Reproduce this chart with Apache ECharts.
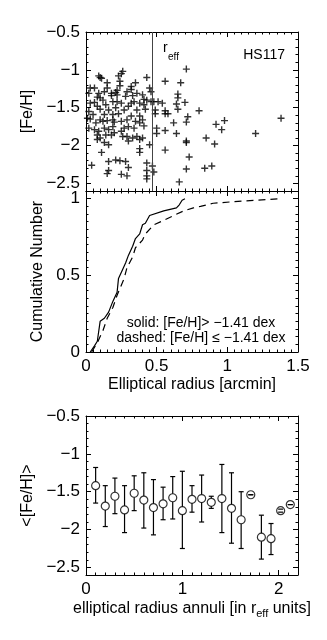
<!DOCTYPE html>
<html>
<head>
<meta charset="utf-8">
<script src="https://cdn.jsdelivr.net/npm/echarts@6/dist/echarts.min.js"></script>
<style>
html, body {margin: 0; padding: 0; background: #fff;}
#hs117 {width: 327px; height: 640px;}
</style>
</head>
<body>
<div id="hs117"></div>
<script>

//
// Data
//

// Individual stars: elliptical radius [arcmin] and [Fe/H]
var star_radius = [
    0.26,0.25,0.23,0.09,0.10,0.11,0.43,0.15,0.03,0.02,
    0.06,0.35,0.32,0.24,0.45,0.36,0.22,0.21,0.22,0.13,
    0.09,0.29,0.18,0.08,0.10,0.28,0.33,0.40,0.41,0.43,
    0.46,0.03,0.06,0.12,0.14,0.19,0.22,0.25,0.32,0.34,
    0.38,0.41,0.08,0.10,0.16,0.21,0.27,0.30,0.36,0.42,
    0.02,0.05,0.13,0.19,0.23,0.32,0.38,0.03,0.01,0.10,
    0.12,0.19,0.25,0.29,0.35,0.40,0.07,0.15,0.41,0.38,
    0.02,0.06,0.09,0.13,0.16,0.19,0.14,0.18,0.20,0.08,
    0.10,0.25,0.27,0.30,0.34,0.26,0.29,0.33,0.36,0.40,
    0.30,0.38,0.08,0.13,0.16,0.38,0.38,0.45,0.11,0.04,
    0.16,0.21,0.24,0.28,0.30,0.16,0.15,0.25,0.29,0.43,
    0.43,0.43,0.43,
    0.24,0.15,0.18,0.32,0.46,0.20,
    0.71,0.56,0.67,0.65,0.65,0.48,0.51,0.54,0.64,0.70,
    0.65,0.80,0.49,0.49,0.56,0.56,0.58,0.72,0.62,0.71,
    0.98,0.92,1.38,0.50,0.50,0.56,0.64,0.96,1.20,0.85,
    0.71,0.71,0.91,0.56,0.73,0.47,0.48,0.71,0.84,0.89,
    0.66
];
var star_feh = [
    -1.02,-1.05,-1.08,-1.08,-1.10,-1.11,-1.10,-1.17,-1.24,-1.31,
    -1.24,-1.17,-1.22,-1.21,-1.24,-1.31,-1.27,-1.30,-1.33,-1.29,
    -1.31,-1.29,-1.34,-1.36,-1.37,-1.35,-1.34,-1.33,-1.39,-1.40,
    -1.42,-1.44,-1.43,-1.40,-1.46,-1.42,-1.42,-1.44,-1.44,-1.42,
    -1.44,-1.46,-1.48,-1.52,-1.53,-1.50,-1.53,-1.48,-1.53,-1.52,
    -1.55,-1.59,-1.59,-1.59,-1.58,-1.61,-1.61,-1.65,-1.64,-1.66,
    -1.68,-1.66,-1.68,-1.66,-1.68,-1.66,-1.70,-1.67,-1.74,-1.70,
    -1.77,-1.79,-1.81,-1.77,-1.79,-1.75,-1.86,-1.86,-1.83,-1.86,
    -1.90,-1.81,-1.77,-1.75,-1.77,-1.88,-1.88,-1.90,-1.88,-1.90,
    -1.94,-1.92,-1.92,-1.96,-1.99,-2.04,-2.09,-1.99,-2.09,-2.26,
    -2.21,-2.19,-2.20,-2.21,-2.29,-2.33,-2.37,-2.38,-2.40,-2.23,
    -2.33,-2.40,-2.44,
    -1.15,-1.24,-1.31,-1.26,-1.29,-1.69,
    -0.99,-1.15,-1.17,-1.32,-1.37,-1.42,-1.42,-1.44,-1.45,-1.43,
    -1.52,-1.54,-1.53,-1.58,-1.54,-1.58,-1.58,-1.62,-1.70,-1.69,
    -1.67,-1.72,-1.64,-1.77,-1.84,-1.80,-1.84,-1.79,-1.84,-1.90,
    -1.94,-1.96,-1.98,-2.06,-2.15,-2.27,-2.35,-2.31,-2.30,-2.27,
    -2.48
];
var reff_radius = 0.475;

// Cumulative distributions
var cum_solid_radius = [0.03,0.06,0.08,0.10,0.13,0.16,0.19,0.22,0.23,0.26,0.28,0.30,0.33,0.35,0.38,0.40,0.42,0.45,0.55,0.64,0.66,0.68,0.70];
var cum_solid_frac   = [0.00,0.04,0.07,0.20,0.22,0.26,0.33,0.39,0.48,0.54,0.58,0.63,0.69,0.74,0.77,0.83,0.84,0.89,0.92,0.94,0.96,0.99,1.00];
var cum_dashed_radius = [0.04,0.08,0.12,0.15,0.19,0.22,0.27,0.29,0.33,0.35,0.40,0.42,0.48,0.53,0.62,0.69,0.76,0.81,0.90,1.04,1.21,1.38];
var cum_dashed_frac   = [0.00,0.06,0.14,0.22,0.29,0.37,0.48,0.55,0.62,0.68,0.73,0.77,0.83,0.85,0.89,0.92,0.94,0.95,0.97,0.98,0.99,1.00];

// Mean [Fe/H] in annuli (r_eff units)
var annuli_radius = [0.10,0.20,0.30,0.40,0.50,0.60,0.70,0.80,0.90,1.00,1.10,1.20,1.30,1.41,1.51,1.61,1.71,1.82,1.92,2.02,2.12];
var annuli_feh    = [-1.42,-1.69,-1.56,-1.74,-1.52,-1.61,-1.71,-1.66,-1.58,-1.75,-1.60,-1.59,-1.64,-1.59,-1.72,-1.87,-1.54,-2.10,-2.12,-1.75,-1.67];
var annuli_high   = [-1.18,-1.42,-1.32,-1.42,-1.29,-1.25,-1.34,-1.44,-1.30,-1.23,-1.42,-1.28,-1.56,-1.14,-1.25,-1.50,-1.54,-1.81,-1.92,-1.73,-1.67];
var annuli_low    = [-1.65,-1.96,-1.79,-2.04,-1.75,-1.98,-2.07,-1.87,-1.86,-2.25,-1.77,-1.90,-1.72,-2.04,-2.18,-2.25,-1.54,-2.39,-2.33,-1.77,-1.67];

// Tick labels
var feh_ticks = [-2.5, -2, -1.5, -1, -0.5];
var radius_ticks = [0, 0.5, 1, 1.5];
var cum_ticks = [0, 0.5, 1];
var annuli_ticks = [0, 1, 2];


//
// Helpers
//

var FONT = '"Liberation Sans", Arial, Helvetica, sans-serif';

var minusFormatter = function(v) {
    return String(v).replace('-', '\u2212');
};

// Four axes per dimension and grid: main side (minor + major ticks), mirrored side (minor + major)
var makeAxes = function(dim, grid, min, max, step, majors, showLabels, name, nameGap, rich) {
    var sides = dim == 'x' ? ['bottom', 'top'] : ['left', 'right'];
    var axes = [];
    sides.forEach(function(side, s) {
        axes.push({
            type: 'value',
            gridIndex: grid,
            position: side,
            min: min,
            max: max,
            interval: step,
            axisLine: {show: true, onZero: false, lineStyle: {color: '#000', width: 1}},
            axisTick: {show: true, inside: true, length: 2.5, lineStyle: {color: '#000', width: 1}},
            axisLabel: {
                show: showLabels && s == 0,
                customValues: majors,
                formatter: minusFormatter,
                color: '#000',
                fontSize: 17,
                fontFamily: FONT,
                margin: 6
            },
            splitLine: {show: false},
            name: s == 0 ? name : '',
            nameLocation: 'middle',
            nameGap: nameGap,
            nameTextStyle: {color: '#000', fontSize: 16, fontFamily: FONT, rich: rich}
        });
        axes.push({
            type: 'value',
            gridIndex: grid,
            position: side,
            min: min,
            max: max,
            axisLine: {show: false, onZero: false},
            axisTick: {show: true, inside: true, length: 5, customValues: majors, lineStyle: {color: '#000', width: 1}},
            axisLabel: {show: false},
            splitLine: {show: false}
        });
    });
    return axes;
};

var subRich = {
    sub: {fontSize: 11, fontFamily: FONT, color: '#000', padding: [10, 0, 0, 0]}
};

var renderErrorBar = function(params, api) {
    var x = api.value(0);
    var pLow = api.coord([x, api.value(1)]);
    var pHigh = api.coord([x, api.value(2)]);
    var pMid = api.coord([x, api.value(3)]);
    var r = 4, cap = 2.5;
    var style = {stroke: '#000', lineWidth: 1.2};
    var children = [
        {type: 'line', shape: {x1: pLow[0] - cap, y1: pLow[1], x2: pLow[0] + cap, y2: pLow[1]}, style: style},
        {type: 'line', shape: {x1: pHigh[0] - cap, y1: pHigh[1], x2: pHigh[0] + cap, y2: pHigh[1]}, style: style}
    ];
    if (pHigh[1] < pMid[1] - r) {
        children.push({type: 'line', shape: {x1: pHigh[0], y1: pHigh[1], x2: pMid[0], y2: pMid[1] - r}, style: style});
    }
    if (pLow[1] > pMid[1] + r) {
        children.push({type: 'line', shape: {x1: pMid[0], y1: pMid[1] + r, x2: pLow[0], y2: pLow[1]}, style: style});
    }
    return {type: 'group', children: children};
};


//
// Chart
//

var chart_element = document.getElementById('hs117');
var chart = echarts.init(chart_element, null, {renderer: 'canvas'});

var xAxes = []
    .concat(makeAxes('x', 0, 0, 1.5, 0.05, radius_ticks, false, '', 0))
    .concat(makeAxes('x', 1, 0, 1.5, 0.05, radius_ticks, true, 'Elliptical radius [arcmin]', 25))
    .concat(makeAxes('x', 2, 0, 2.2, 0.1, annuli_ticks, true, 'elliptical radius annuli [in r{sub|eff} units]', 23, subRich));

var yAxes = []
    .concat(makeAxes('y', 0, -2.6, -0.5, 0.1, feh_ticks, true, '[Fe/H]', 47))
    .concat(makeAxes('y', 1, 0, 1.05, 0.05, cum_ticks, true, 'Cumulative Number', 40))
    .concat(makeAxes('y', 2, -2.6, -0.5, 0.1, feh_ticks, true, '<[Fe/H]>', 47));

chart.setOption({
    animation: false,
    textStyle: {fontFamily: FONT},

    grid: [
        {left: 86, width: 212, top: 32, height: 159},
        {left: 86, width: 212, top: 191, height: 161},
        {left: 86, width: 212, top: 416, height: 159}
    ],

    xAxis: xAxes,
    yAxis: yAxes,

    graphic: [
        {type: 'text', x: 285, y: 55, style: {text: 'HS117', fill: '#000', font: '14px ' + FONT, align: 'right', verticalAlign: 'middle'}},
        {type: 'text', x: 163, y: 48, style: {text: 'r', fill: '#000', font: '14px ' + FONT, align: 'left', verticalAlign: 'middle'}},
        {type: 'text', x: 168, y: 57, style: {text: 'eff', fill: '#000', font: '10px ' + FONT, align: 'left', verticalAlign: 'middle'}},
        {type: 'text', x: 201, y: 323, style: {text: 'solid: [Fe/H]> \u22121.41 dex', fill: '#000', font: '14px ' + FONT, align: 'center', verticalAlign: 'middle'}},
        {type: 'text', x: 201, y: 338, style: {text: 'dashed: [Fe/H] \u2264 \u22121.41 dex', fill: '#000', font: '14px ' + FONT, align: 'center', verticalAlign: 'middle'}}
    ],

    series: [
        // Individual stars
        {
            type: 'scatter',
            xAxisIndex: 0,
            yAxisIndex: 0,
            symbol: 'path://M0,4L8,4M4,0L4,8',
            symbolSize: 7,
            silent: true,
            itemStyle: {color: 'none', borderColor: '#000', borderWidth: 1.4},
            data: star_radius.map(function(r, i) { return [r, star_feh[i]]; }),
            markLine: {
                silent: true,
                symbol: 'none',
                label: {show: false},
                lineStyle: {color: '#444', width: 1, type: 'solid'},
                data: [{xAxis: reff_radius}]
            }
        },
        // Cumulative, metal-rich
        {
            type: 'line',
            xAxisIndex: 4,
            yAxisIndex: 4,
            showSymbol: false,
            silent: true,
            lineStyle: {color: '#000', width: 1.2},
            data: cum_solid_radius.map(function(r, i) { return [r, cum_solid_frac[i]]; })
        },
        // Cumulative, metal-poor
        {
            type: 'line',
            xAxisIndex: 4,
            yAxisIndex: 4,
            showSymbol: false,
            silent: true,
            lineStyle: {color: '#000', width: 1.2, type: [7, 5]},
            data: cum_dashed_radius.map(function(r, i) { return [r, cum_dashed_frac[i]]; })
        },
        // Error bars
        {
            type: 'custom',
            xAxisIndex: 8,
            yAxisIndex: 8,
            silent: true,
            renderItem: renderErrorBar,
            encode: {x: 0, y: [1, 2, 3]},
            data: annuli_radius.map(function(r, i) { return [r, annuli_low[i], annuli_high[i], annuli_feh[i]]; })
        },
        // Annuli means
        {
            type: 'scatter',
            xAxisIndex: 8,
            yAxisIndex: 8,
            symbol: 'circle',
            symbolSize: 8,
            silent: true,
            itemStyle: {color: 'none', borderColor: '#000', borderWidth: 1.2},
            data: annuli_radius.map(function(r, i) { return [r, annuli_feh[i]]; })
        }
    ]
});

</script>
</body>
</html>
